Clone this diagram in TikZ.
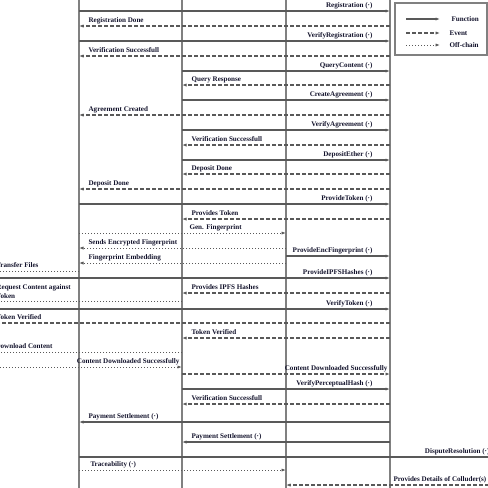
\documentclass[tikz,border=0pt]{standalone}
\usepackage{fontspec}
\setmainfont{Liberation Serif}
\usetikzlibrary{arrows.meta}
\definecolor{lnc}{gray}{0.35}
\definecolor{lfc}{gray}{0.5}
\definecolor{txt}{RGB}{20,20,45}

\begin{document}
\begin{tikzpicture}[x=1pt,y=-1pt,
    life/.style={lfc,line width=1.2pt},
    fn/.style={lnc,line width=1.2pt,-{Latex[length=4.5pt,width=3.2pt]}},
    ev/.style={fn,dash pattern=on 4pt off 2pt},
    off/.style={fn,line width=1pt,dash pattern=on 0.9pt off 2.1pt},
    tx/.style={txt,inner sep=0pt,font=\fontsize{7.1}{9}\selectfont\bfseries},
    lbl/.style={tx,yshift=3.5pt},
    atR/.style={lbl,at end,anchor=base east,xshift=-17pt},
    atL/.style={lbl,at end,anchor=base west,xshift=9pt}]
    \useasboundingbox (0,0) rectangle (488,488);
    \fill[white] (0,0) rectangle (488,488);
    \clip (0,0) rectangle (488,488);

    % lifelines
    \coordinate (L0) at (-30,0);
    \coordinate (L1) at (79,0);
    \coordinate (L2) at (182,0);
    \coordinate (L3) at (286,0);
    \coordinate (L4) at (390,0);
    \coordinate (L5) at (507,0);
    \foreach \l in {L1,L2,L3,L4}
        \draw[life] (\l |- 0,-5) -- (\l |- 0,495);

    % registration and agreement
    \draw[fn] (L1 |- 0,11) -- (L4 |- 0,11) node[atR] (m1) {Registration (·)};
    \draw[ev] (L4 |- 0,26) -- (L1 |- 0,26) node[atL] (m2) {Registration Done};
    \draw[fn] (L1 |- 0,41) -- (L4 |- 0,41) node[atR] (m3) {VerifyRegistration (·)};
    \draw[ev] (L4 |- 0,56) -- (L1 |- 0,56) node[atL] (m4) {Verification Successfull};
    \draw[fn] (L2 |- 0,71) -- (L4 |- 0,71) node[atR] (m5) {QueryContent (·)};
    \draw[ev] (L4 |- 0,85) -- (L2 |- 0,85) node[atL] (m6) {Query Response};
    \draw[fn] (L2 |- 0,100) -- (L4 |- 0,100) node[atR] (m7) {CreateAgreement (·)};
    \draw[ev] (L4 |- 0,115) -- (L1 |- 0,115) node[atL] (m8) {Agreement Created};
    \draw[fn] (L2 |- 0,130) -- (L4 |- 0,130) node[atR] (m9) {VerifyAgreement (·)};
    \draw[ev] (L4 |- 0,145) -- (L2 |- 0,145) node[atL] (m10) {Verification Successfull};
    \draw[fn] (L2 |- 0,160) -- (L4 |- 0,160) node[atR] (m11) {DepositEther (·)};
    \draw[ev] (L4 |- 0,174) -- (L2 |- 0,174) node[atL] (m12) {Deposit Done};
    \draw[ev] (L4 |- 0,189) -- (L1 |- 0,189) node[atL] (m13) {Deposit Done};

    % token and fingerprint
    \draw[fn] (L1 |- 0,204) -- (L4 |- 0,204) node[atR] (m14) {ProvideToken (·)};
    \draw[ev] (L4 |- 0,219) -- (L2 |- 0,219) node[atL] (m15) {Provides Token};
    \draw[off] (L1 |- 0,233) -- (L3 |- 0,233) node[lbl,at start,anchor=base west,xshift=110pt] (m16) {Gen. Fingerprint};
    \draw[off] (L3 |- 0,248) -- (L1 |- 0,248) node[atL] (m17) {Sends Encrypted Fingerprint};
    \draw[fn] (L3 |- 0,256) -- (L4 |- 0,256) node[atR] (m18) {ProvideEncFingerprint (·)};
    \draw[off] (L3 |- 0,263) -- (L1 |- 0,263) node[atL] (m19) {Fingerprint Embedding};
    \draw[off] (L1 |- 0,271) -- (L0 |- 0,271) node[lbl,at start,anchor=base east,xshift=-40pt] (m20) {Transfer Files};
    \draw[fn] (L0 |- 0,278) -- (L4 |- 0,278) node[atR] (m21) {ProvideIPFSHashes (·)};
    \draw[ev] (L4 |- 0,293) -- (L2 |- 0,293) node[atL] (m22) {Provides IPFS Hashes};
    \draw[off] (L2 |- 0,301) -- (L0 |- 0,301) node[tx,at end,anchor=south west,align=left,xshift=26pt,yshift=1.5pt] (m23) {Request Content against\\Token};
    \draw[fn] (L0 |- 0,309) -- (L4 |- 0,309) node[atR] (m24) {VerifyToken (·)};
    \draw[ev] (L4 |- 0,323) -- (L0 |- 0,323) node[lbl,at end,anchor=base west,xshift=26pt] (m25) {Token Verified};
    \draw[ev] (L4 |- 0,338) -- (L2 |- 0,338) node[atL] (m26) {Token Verified};

    % download and settlement
    \draw[off] (L2 |- 0,352) -- (L0 |- 0,352) node[lbl,at end,anchor=base west,xshift=25pt] (m27) {Download Content};
    \draw[off] (L0 |- 0,367) -- (L2 |- 0,367) node[lbl,at end,anchor=base east,xshift=-2pt] (m28) {Content Downloaded Successfully};
    \draw[ev] (L2 |- 0,374) -- (L4 |- 0,374) node[lbl,at end,anchor=base east,xshift=-2pt] (m29) {Content Downloaded Successfully};
    \draw[fn] (L2 |- 0,389) -- (L4 |- 0,389) node[atR] (m30) {VerifyPerceptualHash (·)};
    \draw[ev] (L4 |- 0,404) -- (L2 |- 0,404) node[atL] (m31) {Verification Successfull};
    \draw[fn] (L4 |- 0,422) -- (L1 |- 0,422) node[atL] (m32) {Payment Settlement (·)};
    \draw[fn] (L4 |- 0,442) -- (L2 |- 0,442) node[atL] (m33) {Payment Settlement (·)};
    \draw[fn] (L1 |- 0,457) -- (L5 |- 0,457) node[atR] (m34) {DisputeResolution (·)};
    \draw[off] (L1 |- 0,470) -- (L3 |- 0,470) node[lbl,at start,anchor=base west,xshift=11pt] (m35) {Traceability (·)};
    \draw[ev] (L5 |- 0,485) -- (L3 |- 0,485) node[lbl,at end,anchor=base west,xshift=107pt] (m36) {Provides Details of Colluder(s)};

    % legend
    \draw[lfc,line width=1.2pt,fill=white] (395,3) rectangle (487,55);
    \coordinate (K1) at (406,19);
    \coordinate (K2) at (406,33);
    \coordinate (K3) at (406,45);
    \draw[fn] (K1) -- ++(34,0) node[tx,at end,anchor=west,xshift=11pt] (kfn) {Function};
    \draw[ev] (K2) -- ++(34,0) node[tx,at end,anchor=west,xshift=9pt] (kev) {Event};
    \draw[off] (K3) -- ++(34,0) node[tx,at end,anchor=west,xshift=9pt] (koff) {Off-chain};
\end{tikzpicture}
\end{document}
